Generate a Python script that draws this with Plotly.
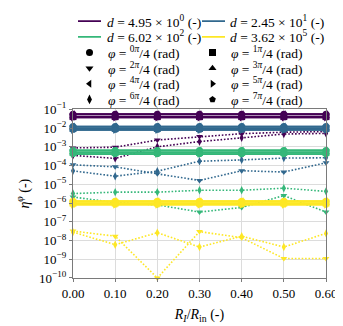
import plotly.graph_objects as go

# ---------------- data ----------------
x_ratio = [0.00, 0.10, 0.20, 0.30, 0.40, 0.50, 0.60]
x_tickvals = [0.00, 0.10, 0.20, 0.30, 0.40, 0.50, 0.60]
x_ticktext = ["0.00", "0.10", "0.20", "0.30", "0.40", "0.50", "0.60"]
y_tickvals = [1e-1, 1e-2, 1e-3, 1e-4, 1e-5, 1e-6, 1e-7, 1e-8, 1e-9, 1e-10]
y_ticktext = ["10<sup>−1</sup>", "10<sup>−2</sup>", "10<sup>−3</sup>", "10<sup>−4</sup>",
              "10<sup>−5</sup>", "10<sup>−6</sup>", "10<sup>−7</sup>", "10<sup>−8</sup>",
              "10<sup>−9</sup>", "10<sup>−10</sup>"]

d_labels = ["4.95 × 10<sup>0</sup>", "2.45 × 10<sup>1</sup>",
            "6.02 × 10<sup>2</sup>", "3.62 × 10<sup>5</sup>"]
phi_numerators = [0, 1, 2, 3, 4, 5, 6, 7]

# eta^phi for each d, one row per phi = 0..7 pi/4
eta_d1 = [
    [5.5e-2, 5.5e-2, 5.5e-2, 5.5e-2, 5.5e-2, 5.5e-2, 5.5e-2],
    [4.1e-2, 4.1e-2, 4.1e-2, 4.1e-2, 4.1e-2, 4.1e-2, 4.1e-2],
    [8.7e-4, 9.5e-4, 2.3e-3, 3.5e-3, 5.0e-3, 6.0e-3, 6.5e-3],
    [4.1e-2, 4.1e-2, 4.1e-2, 4.1e-2, 4.1e-2, 4.1e-2, 4.1e-2],
    [5.5e-2, 5.5e-2, 5.5e-2, 5.5e-2, 5.5e-2, 5.5e-2, 5.5e-2],
    [3.7e-2, 3.7e-2, 3.7e-2, 3.7e-2, 3.7e-2, 3.7e-2, 3.7e-2],
    [3.5e-4, 2.4e-4, 1.0e-3, 1.9e-3, 3.0e-3, 4.8e-3, 5.2e-3],
    [3.7e-2, 3.7e-2, 3.7e-2, 3.7e-2, 3.7e-2, 3.7e-2, 3.7e-2],
]
eta_d2 = [
    [1.2e-2, 1.2e-2, 1.2e-2, 1.2e-2, 1.2e-2, 1.2e-2, 1.2e-2],
    [9.5e-3, 9.5e-3, 9.5e-3, 9.5e-3, 9.5e-3, 9.5e-3, 9.5e-3],
    [1.1e-4, 8.5e-5, 3.6e-5, 1.6e-5, 5.3e-5, 4.5e-5, 1.4e-4],
    [9.5e-3, 9.5e-3, 9.5e-3, 9.5e-3, 9.5e-3, 9.5e-3, 9.5e-3],
    [1.2e-2, 1.2e-2, 1.2e-2, 1.2e-2, 1.2e-2, 1.2e-2, 1.2e-2],
    [8.0e-3, 8.0e-3, 8.0e-3, 8.0e-3, 8.0e-3, 8.0e-3, 8.0e-3],
    [5.2e-5, 2.7e-5, 5.0e-5, 1.7e-4, 2.0e-4, 2.5e-4, 2.6e-4],
    [8.0e-3, 8.0e-3, 8.0e-3, 8.0e-3, 8.0e-3, 8.0e-3, 8.0e-3],
]
eta_d3 = [
    [6.4e-4, 6.4e-4, 6.4e-4, 6.4e-4, 6.4e-4, 6.4e-4, 6.4e-4],
    [5.0e-4, 5.0e-4, 5.0e-4, 5.0e-4, 5.0e-4, 5.0e-4, 5.0e-4],
    [2.1e-6, 1.05e-6, 8.0e-7, 3.3e-7, 5.8e-7, 2.5e-6, 3.3e-7],
    [5.0e-4, 5.0e-4, 5.0e-4, 5.0e-4, 5.0e-4, 5.0e-4, 5.0e-4],
    [6.4e-4, 6.4e-4, 6.4e-4, 6.4e-4, 6.4e-4, 6.4e-4, 6.4e-4],
    [4.1e-4, 4.1e-4, 4.1e-4, 4.1e-4, 4.1e-4, 4.1e-4, 4.1e-4],
    [3.2e-6, 3.8e-6, 3.8e-6, 4.8e-6, 4.8e-6, 6.2e-6, 4.2e-6],
    [4.1e-4, 4.1e-4, 4.1e-4, 4.1e-4, 4.1e-4, 4.1e-4, 4.1e-4],
]
eta_d4 = [
    [1.25e-6, 1.25e-6, 1.25e-6, 1.25e-6, 1.25e-6, 1.25e-6, 1.25e-6],
    [1.0e-6, 1.0e-6, 1.0e-6, 1.0e-6, 1.0e-6, 1.0e-6, 1.0e-6],
    [3.2e-8, 1.7e-8, 1.0e-10, 3.0e-8, 1.4e-8, 1.1e-9, 1.1e-9],
    [1.0e-6, 1.0e-6, 1.0e-6, 1.0e-6, 1.0e-6, 1.0e-6, 1.0e-6],
    [1.25e-6, 1.25e-6, 1.25e-6, 1.25e-6, 1.25e-6, 1.25e-6, 1.25e-6],
    [8.2e-7, 8.2e-7, 8.2e-7, 8.2e-7, 8.2e-7, 8.2e-7, 8.2e-7],
    [2.8e-8, 6.0e-9, 2.6e-8, 4.5e-9, 1.7e-8, 4.5e-9, 2.4e-8],
    [8.2e-7, 8.2e-7, 8.2e-7, 8.2e-7, 8.2e-7, 8.2e-7, 8.2e-7],
]
eta_all = [eta_d1, eta_d2, eta_d3, eta_d4]

# ---------------- styles ----------------
d_colors = ["#440154", "#31688e", "#35b779", "#fde725"]
phi_symbols = ["circle", "square", "triangle-down", "triangle-up",
               "triangle-left", "triangle-right", "diamond-tall", "pentagon"]
dotted_phis = {2, 6}
FONT = "Liberation Serif"

fig = go.Figure()

for di, eta_d in enumerate(eta_all):
    for pi_, vals in zip(phi_numerators, eta_d):
        dotted = pi_ in dotted_phis
        fig.add_trace(go.Scatter(
            x=x_ratio, y=vals, mode="lines+markers",
            line=dict(color=d_colors[di], width=1.6 if dotted else 1.8,
                      dash="1.6px,1.8px" if dotted else "solid"),
            marker=dict(symbol=phi_symbols[pi_], color=d_colors[di],
                        size=6 if dotted else 7, line=dict(width=0)),
            cliponaxis=False, showlegend=False, hoverinfo="skip",
        ))

# ---------------- custom legend (helper axis in screen-pixel units) ----------------
row_y = [12.3, 28.5, 44.7, 60.9, 77.1, 93.3]
col_line = [(78, 101), (202, 225)]
col_marker = [89.5, 212.5]
col_text = [105, 228]

annotations = []
for di, lab in enumerate(d_labels):
    r, c = divmod(di, 2)
    fig.add_trace(go.Scatter(
        x=list(col_line[c]), y=[row_y[r], row_y[r]], mode="lines",
        line=dict(color=d_colors[di], width=1.8), xaxis="x2", yaxis="y2",
        showlegend=False, hoverinfo="skip", cliponaxis=False))
    annotations.append(dict(
        x=col_text[c], y=row_y[r], xref="x2", yref="y2", xanchor="left", yanchor="middle",
        text=f"<i>d</i> = {lab} (-)", showarrow=False,
        font=dict(family=FONT, size=13.5, color="black")))
for pi_ in phi_numerators:
    r, c = divmod(pi_, 2)
    r += 2
    fig.add_trace(go.Scatter(
        x=[col_marker[c]], y=[row_y[r]], mode="markers",
        marker=dict(symbol=phi_symbols[pi_], color="black", size=7, line=dict(width=0)),
        xaxis="x2", yaxis="y2", showlegend=False, hoverinfo="skip", cliponaxis=False))
    annotations.append(dict(
        x=col_text[c] + 1, y=row_y[r], xref="x2", yref="y2", xanchor="left", yanchor="middle",
        text=f"<i>φ</i> = <sup>{pi_}<i>π</i></sup>/4 (rad)", showarrow=False,
        font=dict(family=FONT, size=13.5, color="black")))

axis_gray = "#7a7a7a"
grid_gray = "#dcdcdc"

# page body adds an 8px offset: figure is drawn 8px smaller and shifted
fig.update_layout(
    width=335, height=318,
    margin=dict(l=65, r=17, t=0, b=48),
    paper_bgcolor="white", plot_bgcolor="white",
    font=dict(family=FONT, size=13, color="black"),
    showlegend=False,
    annotations=annotations,
    xaxis=dict(
        domain=[0, 1], range=[0, 0.6], tickmode="array",
        tickvals=x_tickvals, ticktext=x_ticktext,
        showgrid=True, gridcolor=grid_gray, gridwidth=1, zeroline=False,
        showline=True, linecolor=axis_gray, linewidth=1.2, mirror=True,
        ticks="outside", ticklen=3, tickcolor=axis_gray,
        tickfont=dict(family=FONT, size=13, color="black"),
        title=dict(text="<i>R</i><sub><i>I</i></sub>/<i>R</i><sub>in</sub> (-)",
                   font=dict(family=FONT, size=14), standoff=9),
        anchor="y",
    ),
    yaxis=dict(
        domain=[0, 0.6463], type="log", range=[-10, -1], tickmode="array",
        tickvals=y_tickvals, ticktext=y_ticktext,
        showgrid=True, gridcolor=grid_gray, gridwidth=1, zeroline=False,
        showline=True, linecolor=axis_gray, linewidth=1.2, mirror=True,
        ticks="outside", ticklen=3, tickcolor=axis_gray,
        tickfont=dict(family=FONT, size=13, color="black"),
        title=dict(text="<i>η</i><sup><i>φ</i></sup> (-)",
                   font=dict(family=FONT, size=14), standoff=6),
        anchor="x",
    ),
    xaxis2=dict(domain=[0, 1], range=[73, 326], visible=False, anchor="y2",
                fixedrange=True),
    yaxis2=dict(domain=[0.66, 1], range=[99.8, 8], visible=False, anchor="x2",
                fixedrange=True),
)

fig.write_html("out.html")
